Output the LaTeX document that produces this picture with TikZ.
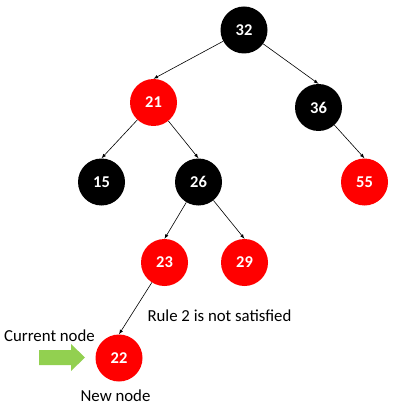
\documentclass[tikz,border=0pt]{standalone}
\usepackage{fontspec}
\setmainfont{Carlito}
\usepackage{tikz}
\usetikzlibrary{arrows,calc}
\definecolor{rbred}{HTML}{FF0000}
\definecolor{arrowgreen}{HTML}{92D050}

\begin{document}
\begin{tikzpicture}[x=1pt,y=-1pt,
  blacknode/.style={circle,fill=black,minimum size=47pt,inner sep=0pt,text=white,font=\fontsize{16.5}{19}\selectfont\bfseries},
  rednode/.style={blacknode,fill=rbred},
  edge/.style={-latex,line width=0.6pt},
  note/.style={font=\fontsize{16.8}{20}\selectfont}]
\useasboundingbox (0,0) rectangle (404,414);
\node[blacknode] (n32) at (244,30) {32};
\node[rednode] (n21) at (153.5,102.5) {21};
\node[blacknode] (n36) at (318.5,107.5) {36};
\node[blacknode] (n15) at (101.5,182) {15};
\node[blacknode] (n26) at (198.5,182) {26};
\node[rednode] (n55) at (364.5,182) {55};
\node[rednode] (n23) at (164.5,262.5) {23};
\node[rednode] (n29) at (244.5,262.5) {29};
\node[rednode] (n22) at (119,358) {22};
\draw[edge] (n32) -- (n21.north);
\draw[edge] (n32) -- (n36.north);
\draw[edge] (n21) -- (n15.north);
\draw[edge] (n21) -- (n26.north);
\draw[edge] (n36) -- (n55.north);
\draw[edge] (n26) -- (n23.north);
\draw[edge] (n26) -- (n29.north);
\draw[edge] (n23) -- (n22.north);
% labels
\node[note] (rule) at (219.5,316) {Rule 2 is not satisfied};
\node[note] (current) at (49.5,336) {Current node};
\node[note] (new) at (115.5,396) {New node};
% green arrow
\fill[arrowgreen] (39,350) -- (71,350) -- (71,344) -- (85,357.5) -- (71,371) -- (71,365) -- (39,365) -- cycle;
\end{tikzpicture}
\end{document}
